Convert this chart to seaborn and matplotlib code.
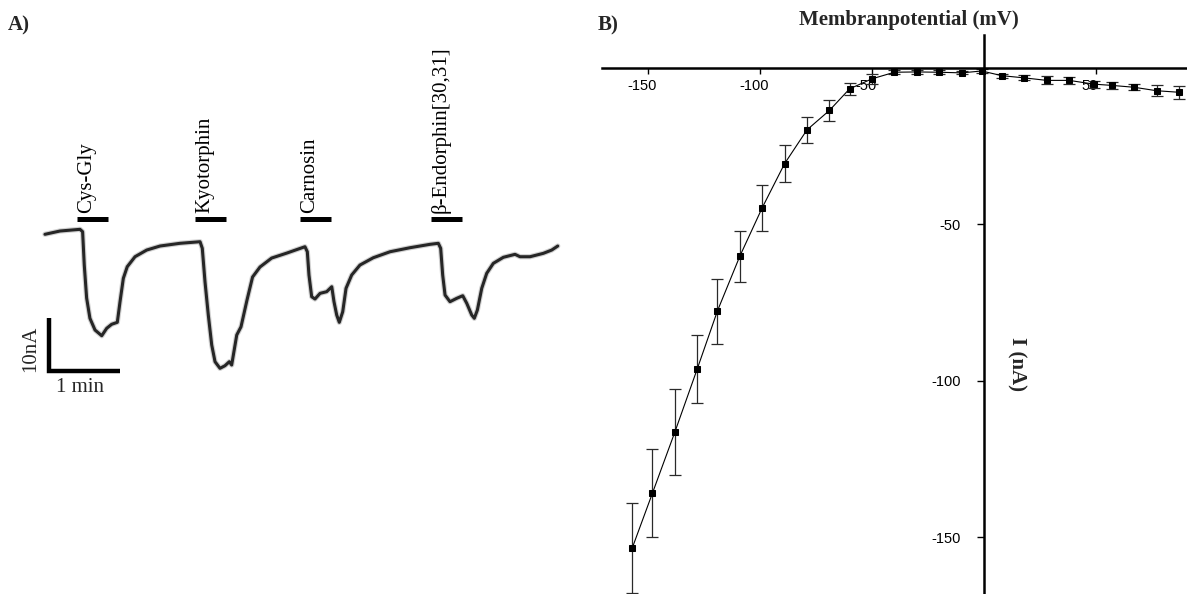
import numpy as np
import matplotlib
matplotlib.use("Agg")
import matplotlib.pyplot as plt
from matplotlib.transforms import ScaledTranslation
import seaborn as sns

# ---------------- Panel A: current trace (time in s, current in nA) ----------------
trace_t = [0.0, 12.7, 29.7, 31.9, 33.3, 35.3, 38.1, 42.4, 48.1, 52.3, 56.5, 61.3,
           63.6, 66.4, 69.7, 76.3, 86.2, 97.5, 114.4, 131.4,
           133.3, 135.6, 138.4, 141.3, 144.1, 148.3, 152.5, 156.2, 158.2, 162.5,
           166.1, 171.2, 175.9, 182.2, 192.1, 205.1, 220.3,
           222.3, 223.7, 226.0, 228.8, 233.1, 238.7, 243.0, 244.9, 247.2, 249.4,
           252.3, 255.1, 259.9, 266.9, 278.2, 292.4, 309.3, 326.3, 333.3,
           335.3, 337.0, 339.0, 343.2, 348.9, 354.0, 357.4, 361.6, 363.8, 366.4,
           370.1, 374.3, 379.9, 388.4, 398.3, 402.5, 411.0, 422.3, 429.4, 434.5]
trace_i = [-0.94, -0.32, 0.0, -0.45, -6.74, -12.96, -16.79, -19.0, -20.08, -18.68, -17.92, -17.55,
           -13.66, -9.25, -7.06, -5.17, -3.91, -3.15, -2.64, -2.34,
           -3.58, -9.89, -16.17, -21.83, -24.98, -26.23, -25.74, -24.98, -25.6, -19.94,
           -18.4, -13.34, -9.0, -7.11, -5.42, -4.47, -3.28,
           -4.23, -8.62, -12.72, -13.15, -12.08, -11.77, -10.83, -13.66, -16.17, -17.55,
           -15.55, -11.13, -8.62, -6.74, -5.36, -4.23, -3.47, -2.83, -2.64,
           -3.58, -8.62, -12.40, -13.66, -13.02, -12.53, -13.96, -16.17, -16.79, -15.23,
           -11.13, -8.30, -6.42, -5.28, -4.72, -5.17, -5.17, -4.53, -3.91, -3.15]

peptides = ["Cys-Gly", "Kyotorphin", "Carnosin", "β-Endorphin[30,31]"]
application_start = [26.9, 127.1, 216.1, 327.1]   # s
application_length = 26.5                          # s

scale_current = 10   # nA
scale_time = 60      # s

# ---------------- Panel B: I/V relation ----------------
potential = [-157, -148, -138, -128, -119, -109, -99, -89, -79, -69, -60, -50, -40,
             -30, -20, -10, -1, 8, 18, 28, 38, 49, 57, 67, 77, 87]
current = [-153.5, -136, -116.5, -96.3, -77.8, -60.3, -44.8, -30.7, -19.9, -13.7, -6.8,
           -3.6, -1.5, -1.4, -1.5, -1.7, -1.1, -2.6, -3.3, -4.1, -4.1, -5.3, -5.7,
           -6.3, -7.4, -7.9]
current_err = [14.5, 14, 13.7, 11, 10.4, 8.2, 7.4, 6, 4.2, 3.3, 2, 1.5, 0.6, 0.6, 0.6,
               0.5, 0.5, 0.6, 0.8, 1.3, 1.2, 1.1, 1.0, 1.0, 1.8, 2.0]
x_ticks = [-150, -100, -50, 50]
y_ticks = [-150, -100, -50]

# ---------------- styling ----------------
sns.set_theme(style="white")
plt.rcParams["font.family"] = ["Liberation Sans", "DejaVu Sans"]
SERIF = ["Liberation Serif", "DejaVu Serif"]

W, H = 1187, 594
fig = plt.figure(figsize=(W / 100, H / 100), dpi=100)


def px_rect(x0, y0, x1, y1):
    return [x0 / W, 1 - y1 / H, (x1 - x0) / W, (y1 - y0) / H]


# ---- panel A ----
axA = fig.add_axes(px_rect(0, 190, 600, 420))
axA.set_xlim(-38.1, 470.3)
axA.set_ylim(-35.98, 7.42)
axA.axis("off")

# soft halo under the trace, then the trace itself
axA.plot(trace_t, trace_i, color="#9a9a9a", lw=3.8, alpha=0.45,
         solid_joinstyle="round", solid_capstyle="round")
sns.lineplot(x=trace_t, y=trace_i, ax=axA, color="#262626", linewidth=2.2,
             estimator=None, sort=False)
for line in axA.get_lines():
    line.set_solid_joinstyle("round")

bar_level = 1.9
for name, start in zip(peptides, application_start):
    axA.plot([start, start + application_length], [bar_level, bar_level],
             color="black", lw=3.6, solid_capstyle="butt")
    axA.text(start, bar_level + 1.2, name, rotation=90, ha="left", va="bottom",
             family=SERIF, fontsize=15, color="black")

# scale bar
sb_t, sb_i = 3.4, -26.7
axA.plot([sb_t, sb_t, sb_t + scale_time], [sb_i + scale_current, sb_i, sb_i],
         color="black", lw=3.2, solid_capstyle="butt", solid_joinstyle="miter")
axA.text(sb_t - 15.3, sb_i + scale_current / 2 - 0.8, f"{scale_current}nA",
         rotation=90, ha="center", va="center", family=SERIF, fontsize=15)
axA.text(sb_t + 26.5, sb_i - 3.2, "1 min", ha="center", va="center",
         family=SERIF, fontsize=15)

fig.text(8 / W, 1 - 25 / H, "A)", ha="left", va="center", family=SERIF,
         fontweight="bold", fontsize=15)

# ---- panel B ----
axB = fig.add_axes(px_rect(602, 35, 1187, 594))
axB.set_facecolor("none")
axB.set_xlim(-170.5, 90.6)
axB.set_ylim(-168.2, 10.4)

axB.errorbar(potential, current, yerr=current_err, fmt="none", ecolor="#2a2a2a",
             elinewidth=0.9, capsize=4.3, capthick=0.9, zorder=2, clip_on=False)
sns.lineplot(x=potential, y=current, ax=axB, color="black", linewidth=0.8,
             marker="s", markersize=4.6, markeredgecolor="black",
             markerfacecolor="black", estimator=None, sort=False, zorder=3)
for coll in axB.collections:
    coll.set_clip_on(False)

for side in ("top", "right"):
    axB.spines[side].set_visible(False)
axB.spines["left"].set_position(("data", 0))
axB.spines["bottom"].set_position(("data", 0))
for side in ("left", "bottom"):
    axB.spines[side].set_linewidth(1.8)
    axB.spines[side].set_color("black")

axB.set_xticks(x_ticks)
axB.set_yticks(y_ticks)
axB.set_xticklabels([str(v) for v in x_ticks])
axB.set_yticklabels([str(v) for v in y_ticks])
axB.tick_params(axis="x", direction="out", length=4, width=1, pad=4,
                labelsize=10.5, colors="black", bottom=True)
axB.tick_params(axis="y", direction="out", length=5, width=1, pad=12,
                labelsize=10.5, colors="black", left=True)
shift = ScaledTranslation(-6 / 100, 0, fig.dpi_scale_trans)
for lab in axB.get_xticklabels():
    lab.set_transform(lab.get_transform() + shift)

axB.set_xlabel("Membranpotential (mV)", family=SERIF, fontweight="bold",
               fontsize=15, va="center")
axB.xaxis.set_label_position("top")
axB.xaxis.set_label_coords(0.525, 1.018)
axB.set_ylabel("I (nA)", family=SERIF, fontweight="bold", fontsize=15,
               rotation=270, ha="center", va="center")
axB.yaxis.set_label_coords(0.708, 0.4114)

fig.text(598 / W, 1 - 25 / H, "B)", ha="left", va="center", family=SERIF,
         fontweight="bold", fontsize=15)

fig.savefig("out.png", dpi=100, facecolor="white")
